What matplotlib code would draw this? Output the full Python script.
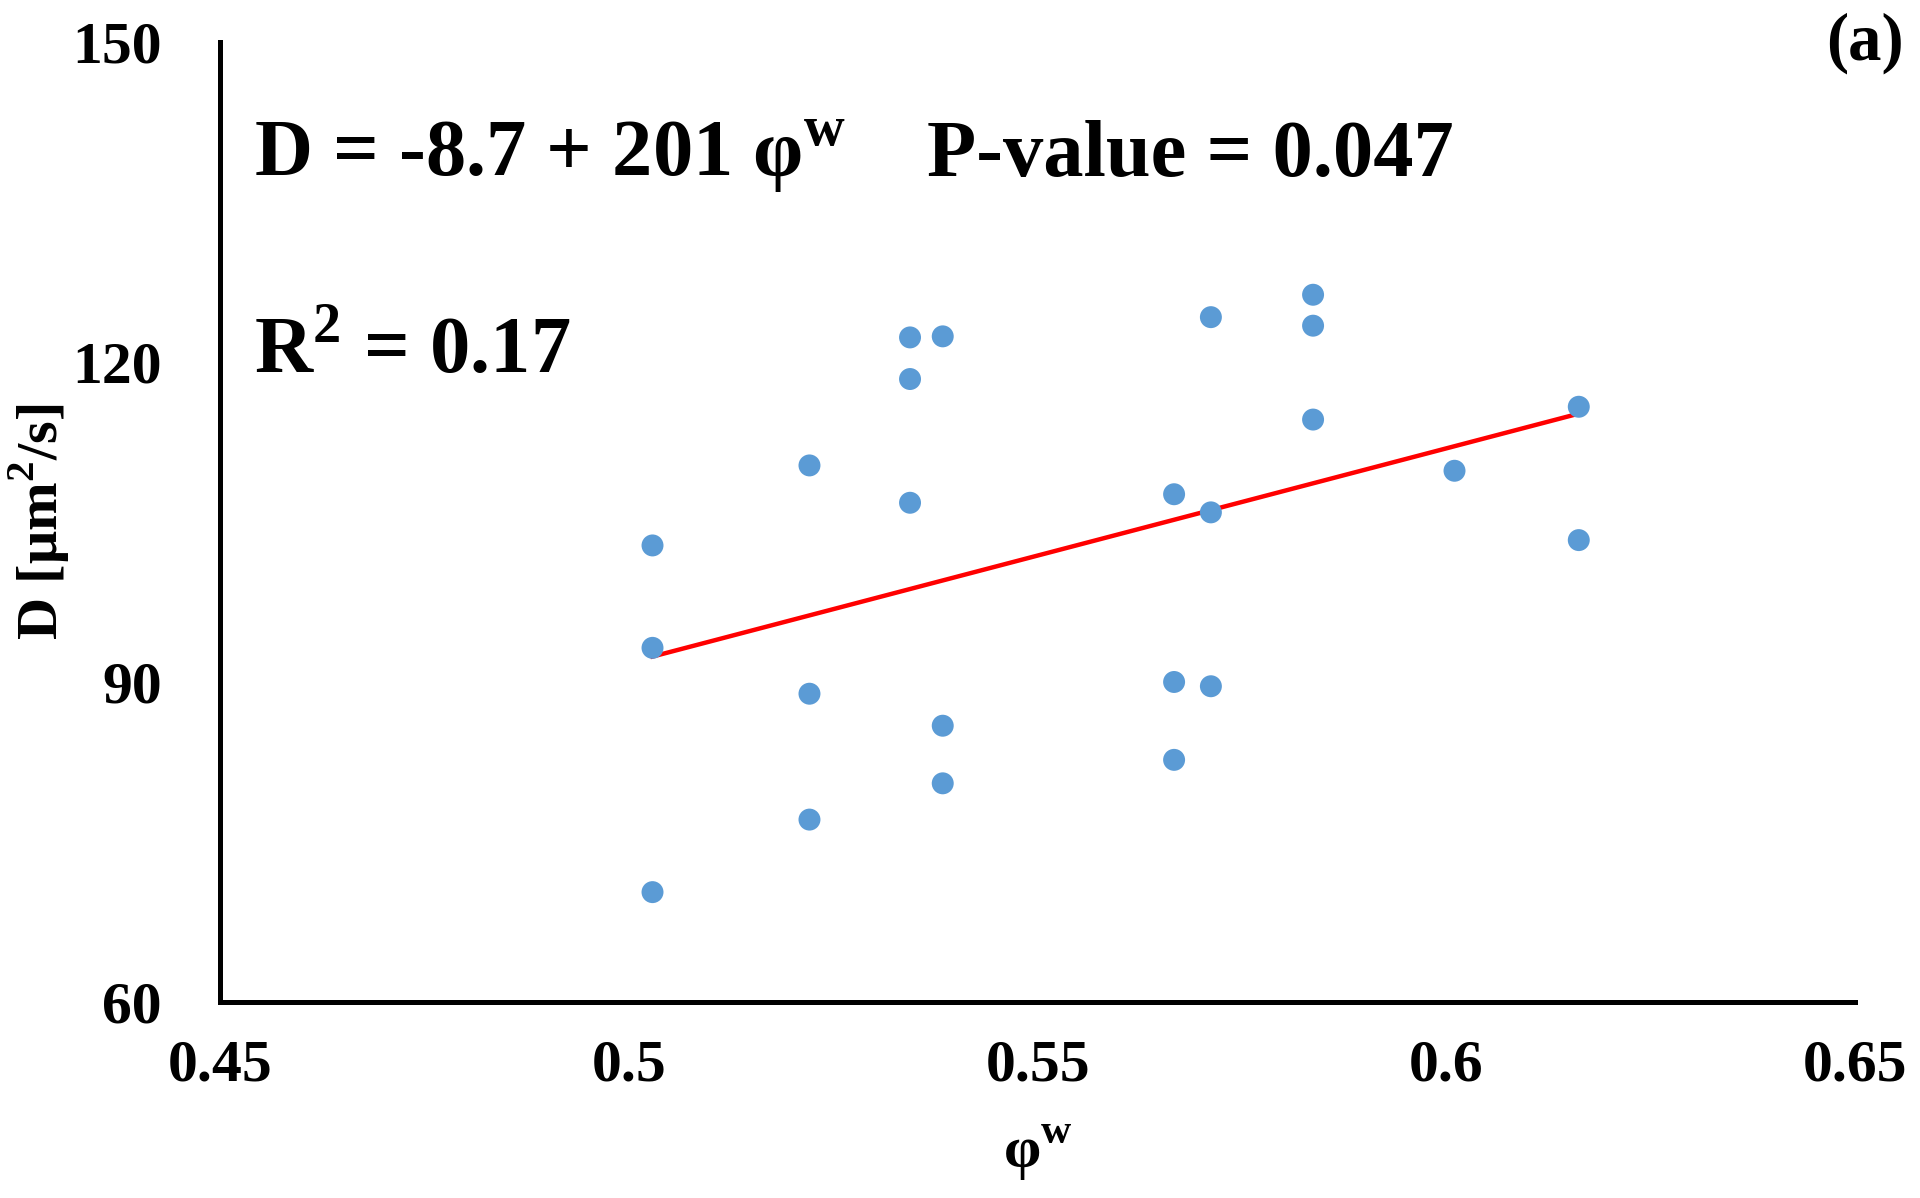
import matplotlib
matplotlib.use("Agg")
import matplotlib.pyplot as plt
import numpy as np

# --------------------------------------------------------------------------
# data
# --------------------------------------------------------------------------
phi_w = [0.5029, 0.5029, 0.5029,
         0.5221, 0.5221, 0.5221,
         0.5344, 0.5344, 0.5344,
         0.5384, 0.5384, 0.5384,
         0.5667, 0.5667, 0.5667,
         0.5712, 0.5712, 0.5712,
         0.5837, 0.5837, 0.5837,
         0.6010,
         0.6162, 0.6162]
diff_coef = [102.8, 93.2, 70.3,
             110.3, 88.9, 77.1,
             122.3, 118.4, 106.8,
             122.4, 85.9, 80.5,
             107.6, 90.0, 82.7,
             124.2, 105.9, 89.6,
             126.3, 123.4, 114.6,
             109.8,
             115.8, 103.3]

fit_intercept = -8.7
fit_slope = 201
eq_text = "D = -8.7 + 201 φ$^{\\mathbf{w}}$"
p_text = "P-value = 0.047"
r2_text = "R$^{\\mathbf{2}}$ = 0.17"
panel_label = "(a)"

x_ticks = [0.45, 0.5, 0.55, 0.6, 0.65]
x_tick_labels = ["0.45", "0.5", "0.55", "0.6", "0.65"]
y_ticks = [60, 90, 120, 150]
y_tick_labels = ["60", "90", "120", "150"]

# --------------------------------------------------------------------------
# style
# --------------------------------------------------------------------------
plt.rcParams["font.family"] = ["Liberation Serif", "DejaVu Serif"]
plt.rcParams["font.weight"] = "bold"
plt.rcParams["mathtext.fontset"] = "custom"
plt.rcParams["mathtext.rm"] = "Liberation Serif:bold"
plt.rcParams["mathtext.bf"] = "Liberation Serif:bold"

fig = plt.figure(figsize=(19.2, 11.98), dpi=100)
ax = fig.add_axes([0.1146, 0.1636, 0.8516, 0.8014])

# trend line
x_fit = np.array([min(phi_w), max(phi_w)])
y_fit = fit_intercept + fit_slope * x_fit
ax.plot(x_fit, y_fit, color="#FF0000", lw=3.2, zorder=2)

# points
ax.scatter(phi_w, diff_coef, s=250, color="#5B9BD5", edgecolors="none", zorder=3)

ax.set_xlim(0.45, 0.65)
ax.set_ylim(60, 150)
ax.set_xticks(x_ticks)
ax.set_xticklabels(x_tick_labels)
ax.set_yticks(y_ticks)
ax.set_yticklabels(y_tick_labels)

for side in ["top", "right"]:
    ax.spines[side].set_visible(False)
for side in ["left", "bottom"]:
    ax.spines[side].set_linewidth(3.6)
    ax.spines[side].set_capstyle("projecting")

ax.tick_params(axis="both", length=0, labelsize=43)
ax.tick_params(axis="y", pad=42)
ax.tick_params(axis="x", pad=27)
for lab in ax.get_xticklabels() + ax.get_yticklabels():
    lab.set_fontweight("bold")

ax.set_xlabel("φ$^{\\mathbf{w}}$", fontsize=43, fontweight="bold", labelpad=22)
ax.set_ylabel("D [μm$^{\\mathbf{2}}$/s]", fontsize=42, fontweight="bold", labelpad=1)

# annotations
ax.text(0.0208, 0.860, eq_text, transform=ax.transAxes, fontsize=58,
        fontweight="bold", va="baseline", ha="left")
ax.text(0.4324, 0.860, p_text, transform=ax.transAxes, fontsize=58,
        fontweight="bold", va="baseline", ha="left")
ax.text(0.0208, 0.655, r2_text, transform=ax.transAxes, fontsize=58,
        fontweight="bold", va="baseline", ha="left")
fig.text(0.9917, 0.95, panel_label, fontsize=48, fontweight="bold",
         va="baseline", ha="right")

fig.savefig("out.png", dpi=100, facecolor="white")
